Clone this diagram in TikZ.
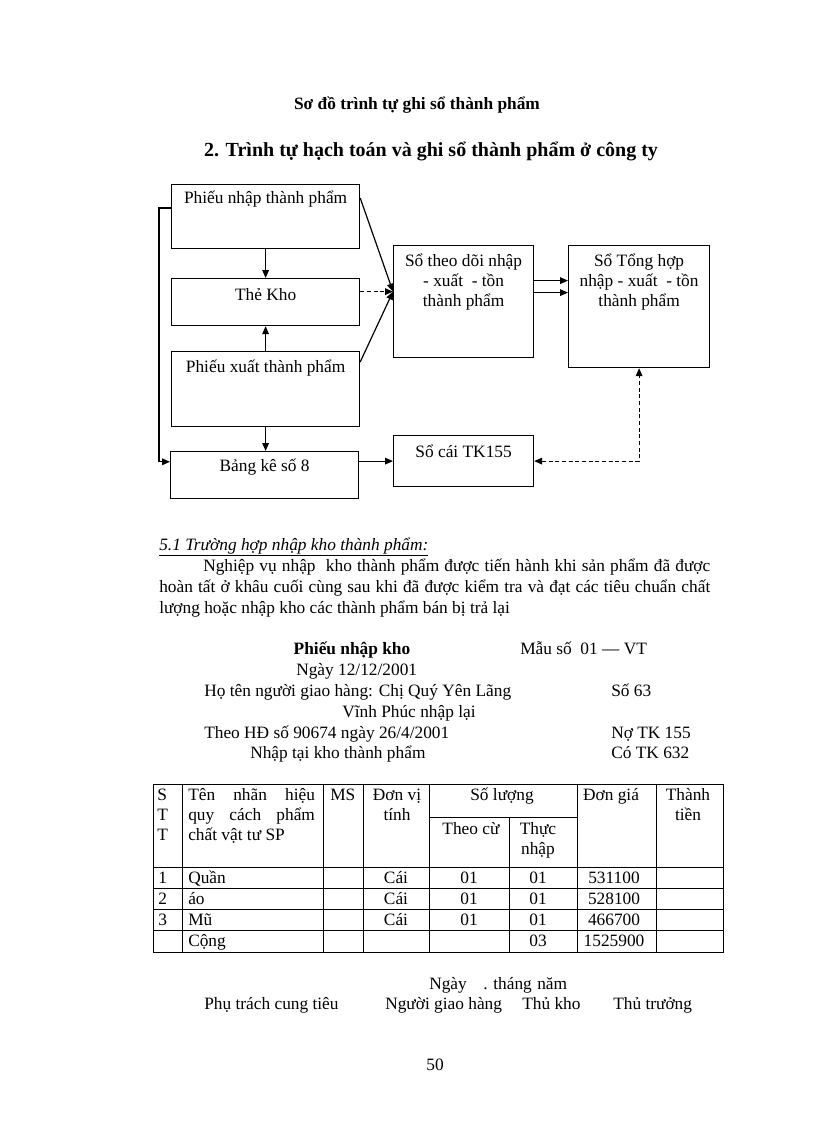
\documentclass[tikz,border=0pt]{standalone}
\usepackage{fontspec}
\setmainfont{Liberation Serif}
\usepackage{tikz}
\usetikzlibrary{arrows.meta, calc}

\tikzset{
	khung/.style={draw, line width=0.9pt, inner sep=0pt, anchor=north west},
	chu/.style={anchor=base west, inner sep=0pt},
	giua/.style={anchor=base, inner sep=0pt},
	nhan/.style={anchor=base, inner sep=0pt, align=center},
	dam/.style={font=\fontsize{13pt}{15pt}\selectfont\bfseries},
	noi/.style={line width=0.9pt},
}

\begin{document}
\begin{tikzpicture}[x=0.75pt, y=-0.75pt, >={Triangle[length=6pt,width=5pt]},
		every node/.style={font=\fontsize{13pt}{15pt}\selectfont}]
			\useasboundingbox (0,0) rectangle (816,1123);
			
			\node[giua, dam] (tieude) at (417,110) {Sơ đồ trình tự ghi sổ thành phẩm};
			\node[giua, font=\fontsize{15pt}{18pt}\selectfont\bfseries] (muc2) at (431,157) {2. Trình tự hạch toán và ghi sổ thành phẩm ở công ty};
			
			\node[khung, minimum width=141pt, minimum height=48pt, label={[nhan, yshift=-15pt]north:Phiếu nhập thành phẩm}] (pnhap) at (171,184) {};
			\node[khung, minimum width=141pt, minimum height=35.25pt, label={[nhan, yshift=-16.5pt]north:Thẻ Kho}] (thekho) at (171,278) {};
			\node[khung, minimum width=141pt, minimum height=56.25pt, label={[nhan, yshift=-15.75pt]north:Phiếu xuất thành phẩm}] (pxuat) at (171,351) {};
			\node[khung, minimum width=141pt, minimum height=35.25pt, label={[nhan, yshift=-15pt]north:Bảng kê số 8}] (bangke) at (170,451) {};
			
			\node[khung, minimum width=105pt, minimum height=84pt, label={[nhan, yshift=-45.75pt]north:Sổ theo dõi nhập\\- xuất\ \ - tồn\\thành phẩm}] (sotheodoi) at (393,245) {};
			\node[khung, minimum width=105.75pt, minimum height=91.5pt, label={[nhan, yshift=-45.75pt]north:Sổ Tổng hợp\\nhập - xuất\ \ - tồn\\thành phẩm}] (sotonghop) at (568,245) {};
			\node[khung, minimum width=105pt, minimum height=38.25pt, label={[nhan, yshift=-16.5pt]north:Sổ cái TK155}] (socai) at (393,435) {};
			
			\coordinate (hoi) at ([yshift=7.5pt]sotheodoi.west);
			\coordinate (ra1) at ([yshift=15.75pt]sotheodoi.east);
			\coordinate (ra2) at ([yshift=6.75pt]sotheodoi.east);
			
			\draw[noi, ->] (pnhap.south) -- (thekho.north);
			\draw[noi, ->] (pxuat.north) -- (thekho.south);
			\draw[noi, ->] (pxuat.south) -- (pxuat.south |- bangke.north);
			\draw[noi, ->] ([yshift=-18pt]pnhap.north west) -- ++(-12,0) |- ([yshift=10pt]bangke.west);
			
			\draw[noi, ->] ([yshift=-10.5pt]pnhap.north east) -- (hoi);
			\draw[noi, ->, dash pattern=on 3pt off 2pt] (thekho.east |- hoi) -- (hoi);
			\draw[noi, ->] ([yshift=-8.25pt]pxuat.north east) -- (hoi);
			
			\draw[noi, ->] (ra1) -- (ra1 -| sotonghop.west);
			\draw[noi, ->] (ra2) -- (ra2 -| sotonghop.west);
			\draw[noi, ->] (bangke.east |- socai.west) -- (socai.west);
			\draw[noi, <->, dash pattern=on 3pt off 2pt] (socai.east) -| (sotonghop.south);
			
			\node[chu, font=\fontsize{13pt}{15pt}\selectfont\itshape] (muc51) at (159,550) {\underline{5.1 Trường hợp nhập kho thành phẩm:}};
			\node[chu] (dong1) at (203,571) {\makebox[380.25pt][s]{Nghiệp vụ nhập\ \ kho thành phẩm được tiến hành khi sản phẩm đã được}};
			\node[chu] (dong2) at (159,592) {\makebox[413.25pt][s]{hoàn tất ở khâu cuối cùng sau khi đã được kiểm tra và đạt các tiêu chuẩn chất}};
			\node[chu] (dong3) at (159,613) {lượng hoặc nhập kho các thành phẩm bán bị trả lại};
			
			\node[giua, dam] (phieu) at (352,654) {Phiếu nhập kho};
			\node[chu] (mauso) at (520,654) {Mẫu số\ \ 01 — VT};
			\node[chu] (ngay) at (296,675) {Ngày 12/12/2001};
			\node[chu] (hoten) at (204,696) {Họ tên người giao hàng: Chị Quý Yên Lãng};
			\node[chu] (so) at (611,696) {Số 63};
			\node[chu] (vinhphuc) at (342,717) {Vĩnh Phúc nhập lại};
			\node[chu] (theohd) at (204,738) {Theo HĐ số 90674 ngày 26/4/2001};
			\node[chu] (notk) at (611,738) {Nợ TK 155};
			\node[chu] (nhaptai) at (250,758) {Nhập tại kho thành phẩm};
			\node[chu] (cotk) at (611,758) {Có TK 632};
			
			\draw[line width=0.6pt] (153,784) rectangle (723,952);
			\foreach \x in {182,323,363,429,577,656}
				\draw[line width=0.6pt] (\x,784) -- (\x,952);
			\draw[line width=0.6pt] (509,817) -- (509,952);
			\draw[line width=0.6pt] (429,817) -- (577,817);
			\foreach \y in {867,888,909,930}
				\draw[line width=0.6pt] (153,\y) -- (723,\y);
			
			\node[chu, align=left] (stt) at (157,840) {S\\T\\T};
			\node[chu, align=left] (ten) at (188,840) {\makebox[95pt][s]{Tên nhãn hiệu}\\\makebox[95pt][s]{quy cách phẩm}\\chất vật tư SP};
			\node[chu] (ms) at (330,800) {MS};
			\node[nhan] (dvt) at (397,820) {Đơn vị\\tính};
			\node[giua] (sl) at (502,800) {Số lượng};
			\node[giua] (theocu) at (471,834) {Theo cừ};
			\node[nhan] (thucnhap) at (538,854) {Thực\\nhập};
			\node[giua] (dongia) at (611,800) {Đơn giá};
			\node[nhan] (thanhtien) at (688,820) {Thành\\tiền};
			
			\foreach \so/\ten/\gia [count=\i] in {1/Quần/531100, 2/áo/528100, 3/Mũ/466700} {
				\node[chu] (so\i) at (158,862+21*\i) {\so};
				\node[chu] (ten\i) at (188,862+21*\i) {\ten};
				\node[giua] (dv\i) at (396,862+21*\i) {Cái};
				\node[giua] (tc\i) at (469,862+21*\i) {01};
				\node[giua] (tn\i) at (538,862+21*\i) {01};
				\node[giua] (gia\i) at (614,862+21*\i) {\gia};
			}
			\node[chu] (cong) at (188,946) {Cộng};
			\node[giua] (tongsl) at (538,946) {03};
			\node[giua] (tonggia) at (614,946) {1525900};
			
			\node[chu] (ngayky) at (429,989) {Ngày};
			\node[chu] (thangky) at (483,989) {. tháng};
			\node[chu] (namky) at (537,989) {năm};
			\node[chu] (cungtieu) at (204,1009) {Phụ trách cung tiêu};
			\node[chu] (giaohang) at (385,1009) {Người giao hàng};
			\node[chu] (thukho) at (522,1009) {Thủ kho};
			\node[chu] (thutruong) at (613,1009) {Thủ trưởng};
			
			\node[giua] (trang) at (435,1070) {50};
\end{tikzpicture}
\end{document}
